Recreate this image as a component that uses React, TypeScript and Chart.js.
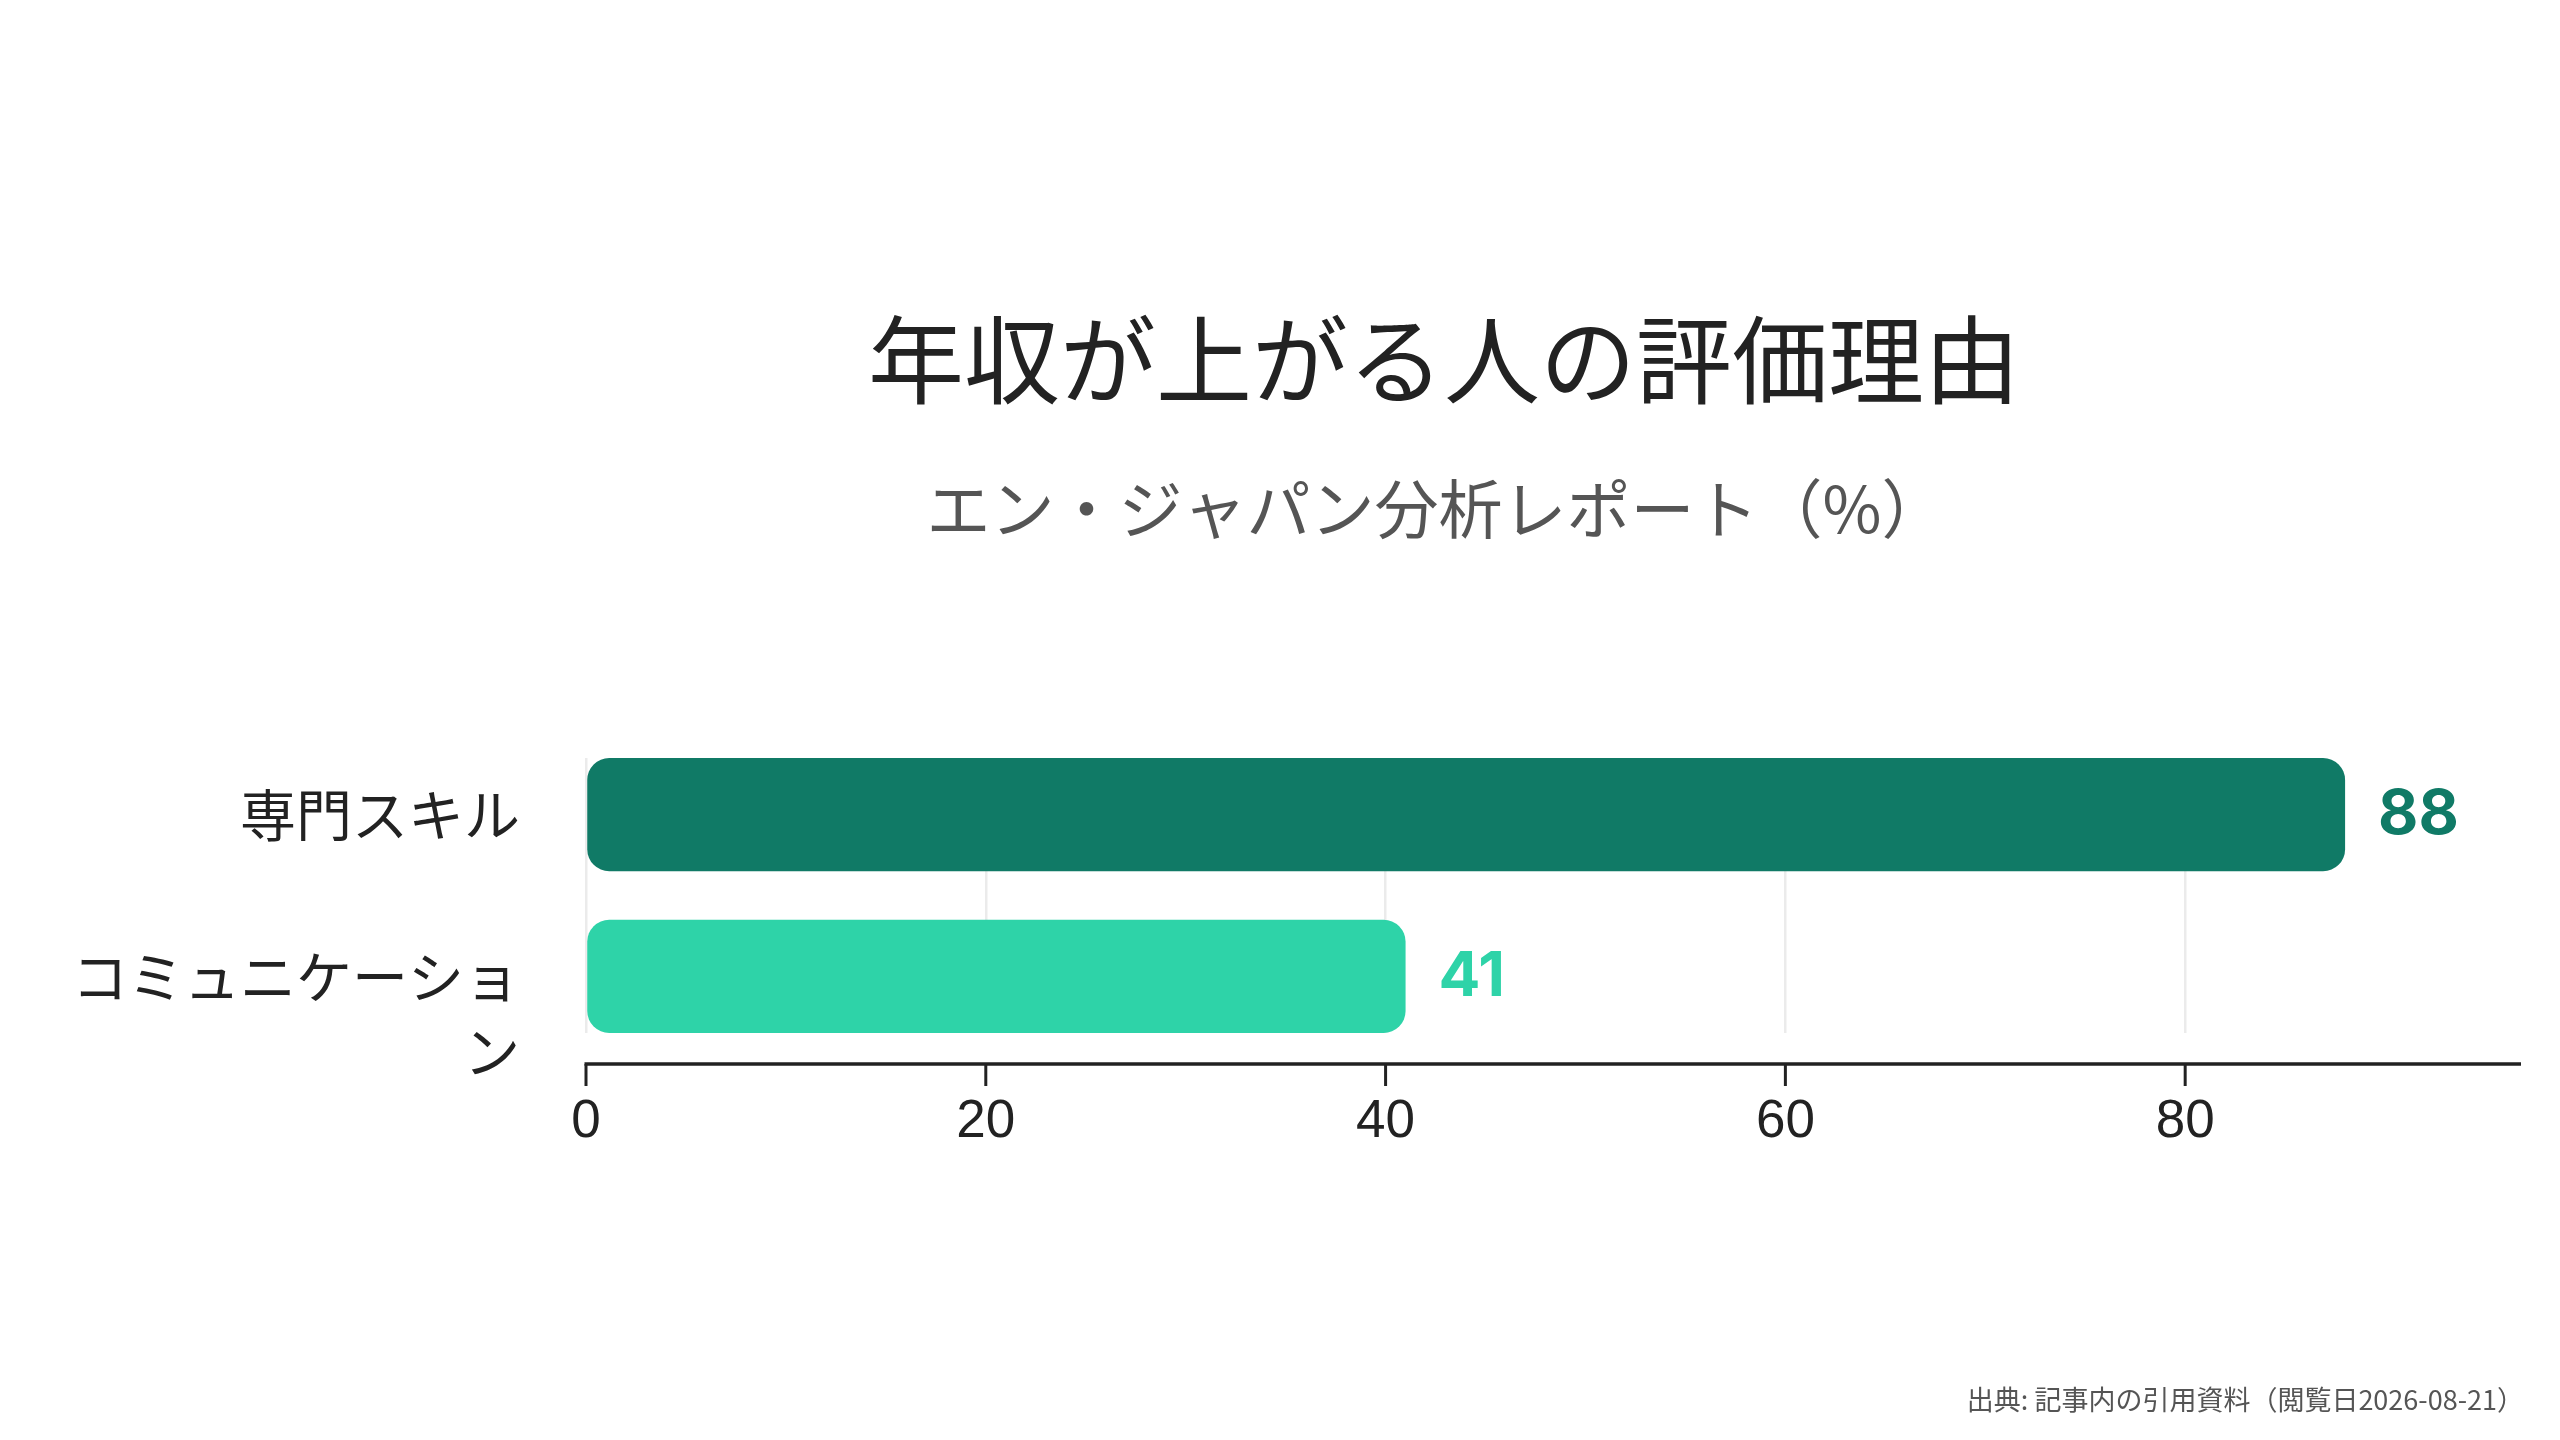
import { useEffect, useRef } from 'react';
import { Chart, registerables } from 'chart.js';

Chart.register(...registerables);

const categories = ['専門スキル', 'コミュニケーション'];
const values = [88, 41];
const barColors = ['#107A66', '#2ED3A8'];
const xTicks = [0, 20, 40, 60, 80];

const titleText = '年収が上がる人の評価理由';
const subtitleText = 'エン・ジャパン分析レポート（%）';
const sourceText = '出典: 記事内の引用資料（閲覧日2026-08-21）';

const JP = '"Noto Sans CJK JP", "Noto Sans", sans-serif';
const AXIS_OFFSET = 31; // gap between the plot band and the x axis line

// wrap long category names every 8 chars, keeping the first line on the bar centre
function wrapLabel(label: string) {
  const lines: string[] = [];
  for (let i = 0; i < label.length; i += 8) lines.push(label.slice(i, i + 8));
  if (lines.length === 1) return label;
  return ['', ...lines];
}

const axisPlugin = {
  id: 'axisPlugin',
  afterDatasetsDraw(chart: any) {
    const ctx = chart.ctx;
    const xs = chart.scales.x;
    const y0 = chart.chartArea.bottom + AXIS_OFFSET;
    ctx.save();
    ctx.strokeStyle = '#222222';
    ctx.lineWidth = 3.5;
    ctx.beginPath();
    ctx.moveTo(xs.left - 1.5, y0);
    ctx.lineTo(xs.right, y0);
    ctx.stroke();
    ctx.lineWidth = 3;
    xs.ticks.forEach((t: any) => {
      const px = xs.getPixelForValue(t.value);
      ctx.beginPath();
      ctx.moveTo(px, y0);
      ctx.lineTo(px, y0 + 22);
      ctx.stroke();
    });
    ctx.restore();
  },
};

const textPlugin = {
  id: 'textPlugin',
  afterDraw(chart: any) {
    const ctx = chart.ctx;
    ctx.save();
    ctx.textBaseline = 'middle';
    ctx.textAlign = 'center';
    ctx.fillStyle = '#222222';
    ctx.font = `400 96px ${JP}`;
    ctx.fillText(titleText, 1444, 360);
    ctx.fillStyle = '#555555';
    ctx.font = `400 64px ${JP}`;
    ctx.fillText(subtitleText, 1436, 509);
    ctx.textAlign = 'right';
    ctx.fillStyle = '#555555';
    ctx.font = `400 27px ${JP}`;
    ctx.fillText(sourceText, 2524, 1400);

    // value labels at the bar ends
    const meta = chart.getDatasetMeta(0);
    ctx.textAlign = 'left';
    ctx.font = `700 62px Inter, "Noto Sans", sans-serif`;
    meta.data.forEach((bar: any, i: number) => {
      ctx.fillStyle = barColors[i];
      ctx.fillText(String(values[i]), bar.x + 33, bar.y + 1);
    });
    ctx.restore();
  },
};

export default function App() {
  const canvasRef = useRef<HTMLCanvasElement>(null);
  const chartRef = useRef<Chart | null>(null);

  useEffect(() => {
    if (!canvasRef.current) return;
    const ctx = canvasRef.current.getContext('2d');
    if (!ctx) return;
    if (chartRef.current) chartRef.current.destroy();

    chartRef.current = new Chart(ctx, {
      type: 'bar',
      data: {
        datasets: [
          {
            data: values.map((v, i) => ({ x: v, y: i })),
            backgroundColor: barColors,
            borderRadius: 22,
            borderSkipped: false,
            barPercentage: 0.7,
            categoryPercentage: 1,
          },
        ],
      },
      options: {
        indexAxis: 'y',
        responsive: true,
        maintainAspectRatio: false,
        animation: false,
        layout: { padding: { top: 758, right: 39, bottom: 267, left: 0 } },
        plugins: {
          legend: { display: false },
          tooltip: { enabled: false },
          title: { display: false },
        },
        scales: {
          x: {
            type: 'linear',
            min: 0,
            max: Math.max(...values) * 1.1,
            afterFit: (scale: any) => {
              scale.height = 140;
            },
            afterBuildTicks: (scale: any) => {
              scale.ticks = xTicks.map((v) => ({ value: v }));
            },
            grid: {
              color: '#ebebeb',
              lineWidth: 2.5,
              drawTicks: false,
            },
            border: { display: false },
            ticks: {
              color: '#222222',
              padding: 58,
              font: { family: '"Liberation Sans", Arial, sans-serif', size: 53 },
            },
          },
          y: {
            type: 'linear',
            offset: false,
            reverse: true,
            min: -0.35,
            max: categories.length - 1 + 0.35,
            afterFit: (scale: any) => {
              scale.width = 586;
            },
            afterBuildTicks: (scale: any) => {
              scale.ticks = categories.map((_c, i) => ({ value: i }));
            },
            grid: { display: false, drawTicks: false },
            border: { display: false },
            ticks: {
              autoSkip: false,
              color: '#222222',
              padding: 66,
              font: { family: JP, size: 56, lineHeight: 1.34 },
              callback: (v: any) => wrapLabel(categories[v]),
            },
          },
        },
      },
      plugins: [axisPlugin, textPlugin],
    });

    return () => {
      if (chartRef.current) {
        chartRef.current.destroy();
        chartRef.current = null;
      }
    };
  }, []);

  return (
    <div style={{ position: 'fixed', top: 0, left: 0, width: '100vw', height: '100vh', background: '#ffffff' }}>
      <canvas ref={canvasRef}></canvas>
    </div>
  );
}
